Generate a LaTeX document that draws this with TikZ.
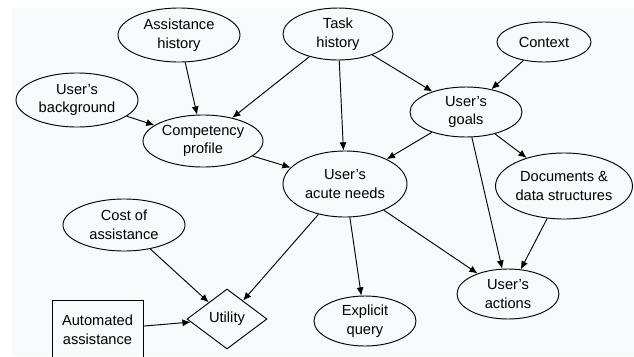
\documentclass[tikz,border=0pt]{standalone}
\usepackage{fontspec}
\setmainfont{Liberation Sans}
\usetikzlibrary{shapes.geometric,arrows.meta}

\definecolor{paper}{RGB}{246,250,250}

\tikzset{
  factor/.style={ellipse, draw, thick, inner sep=0pt, align=center,
    font=\fontsize{12.5}{16}\selectfont},
  choice/.style={rectangle, draw, thick, inner sep=0pt, align=center,
    font=\fontsize{12.5}{16}\selectfont},
  value/.style={diamond, draw, thick, inner sep=0pt, align=center,
    font=\fontsize{12.5}{16}\selectfont},
  link/.style={draw, thick, -{Latex[length=7pt,width=6pt]}}
}

\begin{document}
\begin{tikzpicture}[x=0.03cm, y=-0.03cm]
            \useasboundingbox (0,0) rectangle (634,356);
            \fill[white] (0,0) rectangle (634,356);
            \fill[paper] (12,8) rectangle (634,356);

            % chance nodes
            \node[factor, minimum width=3.66cm, minimum height=1.62cm] (asshist) at (179,35) {Assistance\\history};
            \node[factor, minimum width=3.3cm, minimum height=1.56cm] (taskhist) at (338,34) {Task\\history};
            \node[factor, minimum width=2.82cm, minimum height=1.2cm] (context) at (544,42) {Context};
            \node[factor, minimum width=3.66cm, minimum height=1.62cm] (backgr) at (77,100) {User's\\background};
            \node[factor, minimum width=3.6cm, minimum height=1.56cm] (compet) at (203,141) {Competency\\profile};
            \node[factor, minimum width=3.36cm, minimum height=1.5cm] (goals) at (466,112) {User's\\goals};
            \node[factor, minimum width=3.72cm, minimum height=1.98cm] (needs) at (345,184) {User's\\acute needs};
            \node[factor, minimum width=4.02cm, minimum height=1.98cm] (docs) at (564,186) {Documents \&\\data structures};
            \node[factor, minimum width=3.66cm, minimum height=1.56cm] (cost) at (124,225) {Cost of\\assistance};
            \node[factor, minimum width=3.06cm, minimum height=1.5cm] (query) at (365,321) {Explicit\\query};
            \node[factor, minimum width=3.06cm, minimum height=1.5cm] (actions) at (508,294) {User's\\actions};

            % decision and utility
            \node[choice, minimum width=2.73cm, minimum height=1.8cm] (auto) at (97.5,330) {Automated\\assistance};
            \node[value, minimum width=2.4cm, minimum height=1.8cm] (utility) at (227,319) {Utility};

            \draw[link] (asshist) -- (compet);
            \draw[link] (backgr) -- (compet);
            \draw[link] (taskhist) -- (compet);
            \draw[link] (taskhist) -- (needs);
            \draw[link] (taskhist) -- (goals);
            \draw[link] (context) -- (goals);
            \draw[link] (compet) -- (needs);
            \draw[link] (goals) -- (needs);
            \draw[link] (goals) -- (docs);
            \draw[link] (goals) -- (actions);
            \draw[link] (docs) -- (actions);
            \draw[link] (needs) -- (query);
            \draw[link] (needs) -- (actions);
            \draw[link] (needs) -- (utility);
            \draw[link] (cost) -- (utility);
            \draw[link] (auto) -- (utility);
        \end{tikzpicture}
\end{document}
